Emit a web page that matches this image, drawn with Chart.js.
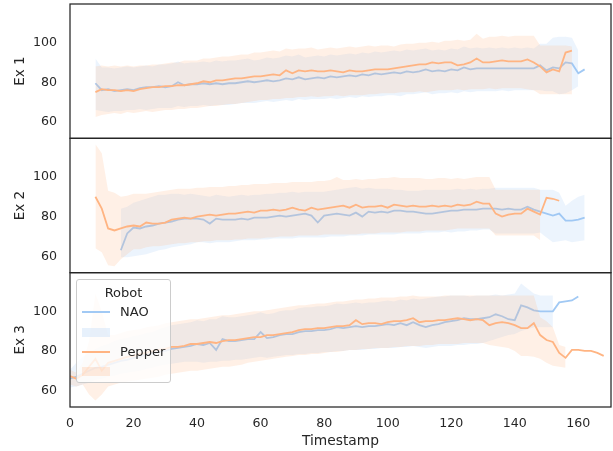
<!DOCTYPE html>
<html><head><meta charset="utf-8">
<script src="https://cdn.jsdelivr.net/npm/chart.js"></script>
<style>
body{margin:0;background:#fff;}
#wrap{position:relative;width:613px;height:451px;}
#legend{position:absolute;left:76px;top:279px;width:95px;height:104px;box-sizing:border-box;border:1px solid #cccccc;border-radius:3px;background:rgba(255,255,255,0.8);font-family:'DejaVu Sans';font-size:13px;color:#262626;}
#legend .t{position:absolute;left:0;width:100%;text-align:center;line-height:16px;}
#legend .ln{position:absolute;left:5px;width:28px;height:2px;}
#legend .pt{position:absolute;left:5px;width:28px;height:9px;}
#legend .lb{position:absolute;left:43px;line-height:16px;}
</style></head>
<body>
<div id="wrap">
<canvas id="c" width="613" height="451"></canvas>
<div id="legend">
  <div class="t" style="top:5px">Robot</div>
  <div class="ln" style="top:31px;background:#a1c9f4"></div>
  <div class="lb" style="top:24px">NAO</div>
  <div class="pt" style="top:48px;background:rgba(161,201,244,0.25)"></div>
  <div class="ln" style="top:71px;background:#ffb482"></div>
  <div class="lb" style="top:64px">Pepper</div>
  <div class="pt" style="top:87px;background:rgba(255,180,130,0.25)"></div>
</div>
</div>
<script>
const timestamps = [0,2,4,6,8,10,12,14,16,18,20,22,24,26,28,30,32,34,36,38,40,42,44,46,48,50,52,54,56,58,60,62,64,66,68,70,72,74,76,78,80,82,84,86,88,90,92,94,96,98,100,102,104,106,108,110,112,114,116,118,120,122,124,126,128,130,132,134,136,138,140,142,144,146,148,150,152,154,156,158,160,162,164,166,168,170];
const xTicks = [0,20,40,60,80,100,120,140,160];
const yTicks = [60,80,100];
const panelTitles = ['Ex 1','Ex 2','Ex 3'];
const seriesNames = ['NAO','Pepper'];

// Ex 1
const ex1NaoMean = [null,null,null,null,79.5,76,76.5,75.5,76,76.5, 76,77,77.5,77.5,78,77.5,78,80,78.5,79, 79,79.5,79,79.5,79,79.5,79.5,80,80.5,80, 80.5,81,80.5,81,82,81.5,82.5,81.5,82,82.5, 82,83,82.5,83,83.5,83,84,83.5,84.5,84, 84.5,85,84.5,85.5,85,85.5,86.5,85.5,86,85.5, 86.5,86,87.5,86.5,87,87,87,87,87,87, 87,87,87,87,88.5,86,87.5,87,90,89.5, 84.5,86.5,null,null,null,null];
const ex1NaoHi = [null,null,null,null,92,87.5,87.5,87,87.5,88, 87.5,88,88.5,88,89,89,89.5,90.5,89.5,90, 90,90.5,90,91,90.5,91,91,91.5,92,91, 91.5,92.5,92,92.5,93.5,93,94,92.5,93,93.5, 93,94,93.5,94,94.5,94,95,94.5,95.5,95, 95.5,96,95.5,96.5,96,96.5,97,96,96.5,96, 97,96.5,98,97,97.5,97,97.5,97,97.5,97, 97.5,97,97.5,97,99.5,99.5,102.5,103,103,102.5, 96,null,null,null,null,null];
const ex1NaoLo = [null,null,null,null,66,65.5,65,65.5,65.5,66, 66,66.5,66,66.5,67,67,67,68,67.5,68, 68,68.5,68,68.5,68.5,68.5,69,69.5,69.5,69.5, 70,70.5,70,70.5,71,70.5,71.5,71,71.5,71.5, 71.5,72,71.5,72,72.5,72,73,72.5,73,73, 73.5,73.5,73,74,74,74.5,75,74,74.5,74.5, 75,74.5,75.5,75,75.5,75.5,75.5,75.5,76,75.5, 76,76,76,76,76,75.5,75.5,74,74.5,76, 78,null,null,null,null,null];
const ex1PepMean = [null,null,null,null,75,76.5,76,76,75.5,76, 75.5,76.5,77,77.5,77.5,78,78,78.5,78.5,79, 79.5,80.5,80,81,81,81.5,82,82,82.5,83, 83,83.5,84,83.5,86,84.5,86,85.5,86,85.5, 85.5,86,85.5,85,86,85.5,85.5,86,86.5,86.5, 86.5,87,87.5,88,88.5,89,89,90,89.5,90, 90,88.5,89,90,92,90,90,90.5,91,90.5, 90.5,90.5,91.5,90,88,85,86.5,85.5,95,96, null,null,null,null,null,null];
const ex1PepHi = [null,null,null,null,88,88.5,88,88.5,88,88.5, 88,88.5,88.5,89,89,89.5,90,90,91,91, 91,92,92,92.5,93,93,93.5,94,94,95, 95,95.5,96,95.5,97,96.5,97,97,97.5,96.5, 97,97.5,97,97.5,98,97.5,98,98.5,98,98.5, 98.5,98,99,99.5,99.5,100,100,100.5,100,101, 101,101.5,101,101.5,104.5,102,103,103,103.5,103, 103.5,103.5,103.5,103.5,98.5,98.5,98.5,98.5,98.5,98, null,null,null,null,null,null];
const ex1PepLo = [null,null,null,null,62.5,63.5,64,64.5,64,65, 64.5,65,65.5,65,65.5,66,66,66.5,66.5,67, 67,67.5,68,68,68.5,69,69,69.5,70,70.5, 71,71,71.5,71.5,72,72,72.5,72.5,73,72.5, 73,73,73.5,73,73.5,73.5,73.5,74,74,74.5, 74.5,74.5,75,75,75,75.5,75,75.5,76,76, 76,76.5,76,76.5,76.5,76.5,77,76.5,77,77, 77,77,76.5,76,74,74,74,74,74,74, null,null,null,null,null,null];

// Ex 2
const ex2NaoMean = [null,null,null,null,null,null,null,null,63,71.5, 74.5,74,75,75.5,76.5,77,77.5,78.5,79,79, 79,78.5,76.5,79,78.5,78.5,78.5,79,78.5,79.5, 79.5,79.5,80,80.5,80,80.5,81,81.5,80.5,77, 80.5,81,81.5,81,80.5,82,80,82.5,82,82.5, 82,83,83,82.5,82.5,82,81.5,81.5,82,82.5, 83,83,83.5,83.5,83.5,84,84,84,83.5,84, 83.5,83.5,85,83.5,82.5,81.5,80.5,81.5,78,78, 78.5,79.5,null,null,null,null];
const ex2NaoHi = [null,null,null,null,null,null,null,null,84,85, 87,88,89,90,91,91,91.5,91.5,91,91.5, 91,90.5,90,91,90.5,90,90.5,91,90.5,91, 91,91.5,91.5,92,92,92.5,92,92.5,92.5,92.5, 92.5,93,93.5,94,94.5,95,94,94.5,94,94, 94,93.5,93.5,93,93,93,93.5,93.5,93.5,93.5, 93.5,94,93.5,94,93.5,94,94,94.5,94.5,94.5, 94.5,94.5,94.5,94.5,93.5,93.5,93.5,92,85.5,88, 90,91,null,null,null,null];
const ex2NaoLo = [null,null,null,null,null,null,null,null,59.5,59.5, 60,60.5,61,62,63,63.5,64.5,65,65.5,66, 67,67,66.5,67,67,67,67.5,68,68,68, 68.5,68.5,69,69,69,69,69.5,69.5,69.5,69.5, 69.5,70,70,70,70.5,70.5,70.5,71,71,71, 71,71,71.5,71.5,71.5,71.5,72,72,72,72.5, 72,72.5,72.5,73,73,73.5,73.5,71.5,71.5,71.5, 71.5,71.5,71.5,71.5,72,69.5,67,67.5,68,67, 67.5,68,null,null,null,null];
const ex2PepMean = [null,null,null,null,90,84,74,73,74,75, 75.5,75,77,76.5,76.5,77,78.5,79,79.5,79, 80,80.5,81,80.5,81,81.5,81.5,82,82.5,82, 83,83,83.5,83,83.5,84.5,83.5,83,84.5,83.5, 84,84.5,85,85.5,84.5,86,84.5,85,85,85.5, 84.5,86,85.5,85,85.5,85,85,85.5,85,85.5, 85,86,85.5,86,87.5,86.5,86.5,81.5,80,81, 81.5,81.5,84,82.5,81,89.5,89,88,null,null, null,null,null,null,null,null];
const ex2PepHi = [null,null,null,null,116.5,112,93,92,90,90.5, 91.5,91.5,91.5,92,92.5,93,93.5,94,94,94, 94.5,94.5,95,95,95,95.5,95.5,96,96,96.5, 96.5,96.5,97,97,97,97.5,97.5,97.5,97.5,98, 98,98.5,100,98.5,98.5,99,98.5,99,99,99.5, 99.5,100,99.5,99.5,99.5,99.5,99,99,99.5,99.5, 99,99.5,99,99.5,100,100,100,93.5,93.5,93.5, 93.5,93.5,93.5,93.5,93.5,null,null,null,null,null, null,null,null,null,null,null];
const ex2PepLo = [null,null,null,null,64,62,55.5,55,58.5,61, 63.5,63.5,64.5,65,65,65.5,66,66.5,66.5,67, 67,67.5,67.5,68,68,68,68.5,68.5,69,69, 69,69.5,69.5,70,70,70,70.5,70.5,70.5,70.5, 71,71,71,71,71,71,71.5,71.5,71.5,72, 72,72,72,72.5,72.5,72.5,73,73,73,73, 73.5,74,74,74,74,74,74,70.5,70.5,70.5, 70.5,70.5,70.5,70.5,68,null,null,null,null,null, null,null,null,null,null,null];

// Ex 3
const ex3NaoMean = [66,67,68.5,70,71.5,72,73,74,75,75.5, 76.5,77,78,78.5,79.5,80,81,81.5,82,82.5, 83.5,83,84,80.5,86,85,85,85.5,86,86, 89.5,86.5,87,88,88.5,88.5,89.5,90,90,90.5, 90.5,91,92,91.5,92,92.5,92,92.5,92.5,93, 93.5,93,94,93,94.5,93,92,93,93.5,94.5, 95,95.5,96.5,96,96,96.5,97,98.5,97.5,96, 95.5,103,102,100.5,100,100,100,104.5,105,105.5, 107.5,null,null,null,null,null];
const ex3NaoHi = [70.5,74,77,79,81,82.5,83.5,85,86,86.5, 87.5,88,89,89.5,91,92,93,93.5,94,94.5, 95.5,95,96,96,97.5,97,97,97.5,98,98.5, 99.5,98.5,99,100,100.5,100.5,101.5,102,102,102.5, 102.5,103,104,103.5,104,104.5,104,104.5,104.5,105, 105.5,105,106,105.5,106.5,106,106.5,107,107.5,107.5, 108,108,108,107.5,108,108,108,108.5,108,108.5, 109,114,111.5,109,108,108,108,null,null,null, null,null,null,null,null,null];
const ex3NaoLo = [61.5,62,63,64,65.5,66,67,67.5,68.5,69, 69.5,70,71,71.5,72.5,73,73.5,74,74.5,74.5, 74.5,74,74.5,74.5,75,75,75.5,75.5,76,76.5, 77,76.5,77,77.5,78,78,78.5,78.5,79,79, 79.5,79.5,80,80,80.5,80.5,80.5,81,81,81.5, 81.5,81.5,82,82,82.5,82,81.5,82,82.5,82.5, 82.5,83,83,83.5,83.5,84,85,86,87,88, 88.5,90,91,92,92,92,92,null,null,null, null,null,null,null,null,null];
const ex3PepMean = [67.3,66,68,72,76,70,74,75,76,77, 77.5,78.5,79,80,80.5,81,82,82,82.5,83.5, 83.5,84,84.5,84,85,85.5,85.5,86,86.5,87, 87,88,88,88.5,89,89.5,90.5,91,91,91.5, 91.5,92,92.5,92.5,93,95.5,93.5,94,94,93.5, 94.5,95,95,95.5,96.5,94.5,95,95,95.5,95.5, 96,96.5,96,95.5,96,95.5,93,94,94.5,94, 93,91.5,91.5,94,88,85.5,84.5,79,76.5,80.5, 80.5,80,80,79,77.5,null];
const ex3PepHi = [70.5,69,74,85,109,100,88,88,89,90, 90.5,91,92,92.5,93,94,94.5,95,95.5,96, 96,96.5,97,97.5,98,98,98.5,99,99.5,100, 100,100.5,101,101.5,102,102.5,103,103,103.5,104, 104,104.5,105,105,105.5,106,106,106.5,106.5,107, 107,107,107.5,107.5,108,107.5,107.5,107.5,107.5,108, 108,108,108,108,108,108,108,108,108,108, 108,108,108,108,97,95,92,83,82,null, null,null,null,null,null,null];
const ex3PepLo = [63,62,63,58,55,58,62,63,64,64.5, 65,65.5,66,66.5,67,68,68.5,69,69.5,70, 70,70.5,71,71.5,72,72,72.5,73,74,74.5, 75,75.5,76,76.5,77,77.5,78,78,78.5,78.5, 79,79.5,79.5,80,80.5,80.5,81,81,81.5,81.5, 81.5,82,82,82.5,82.5,82.5,83,83,83.5,83.5, 83.5,83.5,84,84,84,84,83,82.5,82,81.5, 80,77.5,77.5,77,76,74,72.5,72,71.5,null, null,null,null,null,null,null];

const NAO_C = '#a1c9f4', PEP_C = '#ffb482';
const NAO_F = 'rgba(161,201,244,0.2)', PEP_F = 'rgba(255,180,130,0.2)';
const TXT = '#262626';
const FONT = 'DejaVu Sans';

function pts(arr){ return timestamps.map((t,i)=>({x:t, y:arr[i]})); }
function panelSets(yid, nm, nh, nl, pm, ph, pl){
  const clear = 'rgba(0,0,0,0)';
  return [
    {label:seriesNames[0], data:pts(nm), yAxisID:yid, borderColor:NAO_C, borderWidth:1.8, pointRadius:0, fill:false, order:4},
    {data:pts(nh), yAxisID:yid, borderColor:clear, borderWidth:0, pointRadius:0, backgroundColor:NAO_F, fill:'+1', order:3},
    {data:pts(nl), yAxisID:yid, borderColor:clear, borderWidth:0, pointRadius:0, fill:false, order:3},
    {label:seriesNames[1], data:pts(pm), yAxisID:yid, borderColor:PEP_C, borderWidth:1.8, pointRadius:0, fill:false, order:2},
    {data:pts(ph), yAxisID:yid, borderColor:clear, borderWidth:0, pointRadius:0, backgroundColor:PEP_F, fill:'+1', order:1},
    {data:pts(pl), yAxisID:yid, borderColor:clear, borderWidth:0, pointRadius:0, fill:false, order:1}
  ];
}
function yScale(title){
  return {
    type:'linear', position:'left', stack:'panels', stackWeight:1, min:51.7, max:119.5,
    afterBuildTicks: s => { s.ticks = yTicks.map(v=>({value:v})); },
    afterFit: s => { s.width = 70; s.paddingTop = 0; s.paddingBottom = 0; },
    grid:{display:false, drawTicks:false}, border:{display:false},
    ticks:{font:{family:FONT, size:12.6}, color:TXT, padding:13},
    title:{display:true, text:title, font:{family:FONT, size:13.5}, color:TXT, padding:{top:12, bottom:0}}
  };
}
const frames = {
  id:'frames',
  afterDatasetsDraw(chart){
    const ctx = chart.ctx, a = chart.chartArea;
    ctx.save(); ctx.strokeStyle = TXT; ctx.lineWidth = 1.25;
    ['y1','y2','y3'].forEach(id => { const s = chart.scales[id]; ctx.strokeRect(a.left, s.top, a.right - a.left, s.bottom - s.top); });
    ctx.restore();
  }
};
new Chart(document.getElementById('c'), {
  type:'line',
  data:{ datasets:[
    ...panelSets('y1', ex1NaoMean, ex1NaoHi, ex1NaoLo, ex1PepMean, ex1PepHi, ex1PepLo),
    ...panelSets('y2', ex2NaoMean, ex2NaoHi, ex2NaoLo, ex2PepMean, ex2PepHi, ex2PepLo),
    ...panelSets('y3', ex3NaoMean, ex3NaoHi, ex3NaoLo, ex3PepMean, ex3PepHi, ex3PepLo)
  ]},
  options:{
    responsive:false, animation:false, devicePixelRatio:1,
    layout:{padding:{top:4, right:2, left:0, bottom:0}},
    plugins:{legend:{display:false}, tooltip:{enabled:false}},
    elements:{line:{tension:0}},
    scales:{
      x:{type:'linear', min:0, max:170.3,
        afterBuildTicks: s => { s.ticks = xTicks.map(v=>({value:v})); },
        afterFit: s => { s.height = 44; s.paddingLeft = 0; s.paddingRight = 0; },
        grid:{display:false, drawTicks:false}, border:{display:false},
        ticks:{font:{family:FONT, size:12.6}, color:TXT, padding:9.5, maxRotation:0, autoSkip:false},
        title:{display:true, text:'Timestamp', font:{family:FONT, size:13.8}, color:TXT, padding:{top:0, bottom:1}}
      },
      y3: yScale(panelTitles[2]),
      y2: yScale(panelTitles[1]),
      y1: yScale(panelTitles[0])
    }
  },
  plugins:[frames]
});
</script>
</body></html>
